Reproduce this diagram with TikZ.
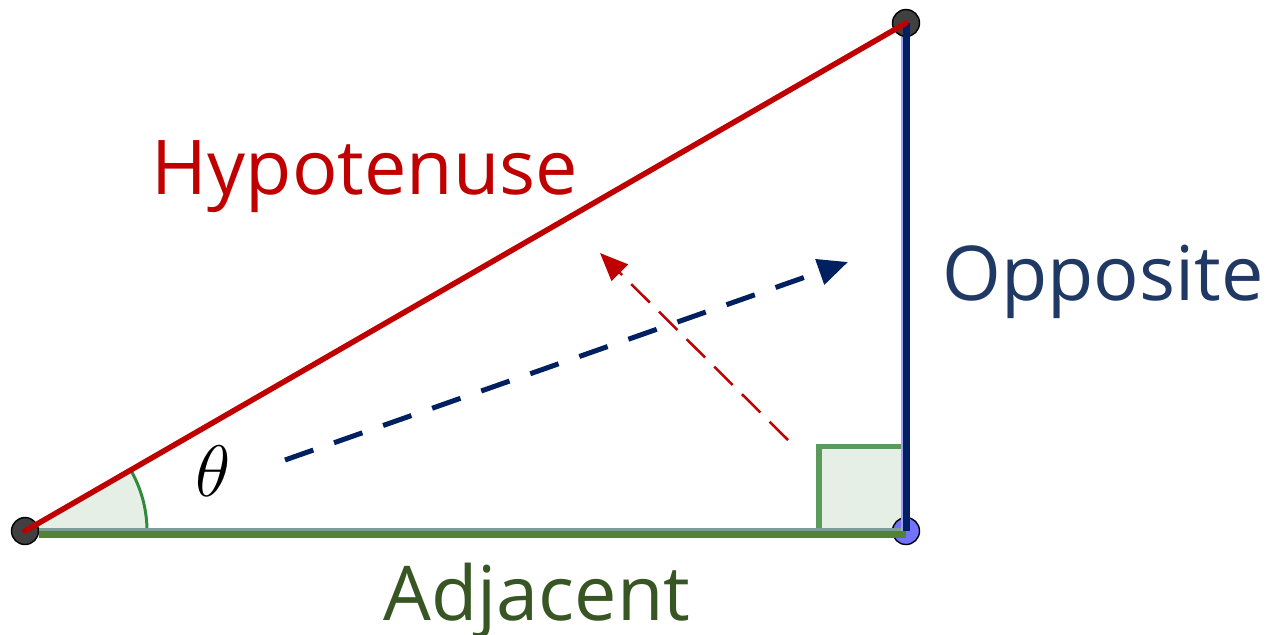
\documentclass[tikz,border=0pt]{standalone}
\usepackage{fontspec}
\setmainfont{Open Sans}
\usepackage{amsmath}
\usepackage{tikz}
\usetikzlibrary{arrows.meta, positioning, calc}
\definecolor{hypred}{HTML}{C00000}
\definecolor{oppblue}{HTML}{002060}
\definecolor{opptext}{HTML}{1F3864}
\definecolor{oppedge}{HTML}{A0A0FF}
\definecolor{adjgreen}{HTML}{538135}
\definecolor{adjtext}{HTML}{375623}
\definecolor{adjedge}{HTML}{7A9E96}
\definecolor{anglegreen}{HTML}{2E8B3A}
\definecolor{boxgreen}{HTML}{5A9A5A}
\definecolor{softgreen}{HTML}{E6EFE6}
\tikzstyle{vertex}   = [circle, inner sep=0pt, minimum size=2.7mm,
                        draw=black, line width=0.4pt, fill=black!75]
\tikzstyle{side}     = [line width=0.55mm, line cap=round]
\tikzstyle{label}    = [anchor=base, inner sep=0pt,
                        font=\fontsize{21.5}{26}\selectfont]
\tikzstyle{projarrow}= [-{Triangle[length=3mm, width=2.6mm]}, oppblue,
                        line width=0.5mm, dash pattern=on 3mm off 2.2mm]
\tikzstyle{normarrow}= [-{Triangle[length=2.8mm, width=2.3mm]}, hypred,
                        line width=0.25mm, dash pattern=on 2.6mm off 1.3mm]

\begin{document}
\begin{tikzpicture}[x=0.1mm, y=-0.1mm]
  \useasboundingbox (0,0) rectangle (1270,634);

  %% angle and right-angle marks
  \fill[softgreen] (25,531) -- ++(0:122) arc[start angle=0, end angle=-30, radius=122] -- cycle;
  \draw[boxgreen, line width=0.55mm, fill=softgreen] (819,446.5) rectangle (906,531);
  \draw[anglegreen, line width=0.3mm] (25,531) ++(0:122) arc[start angle=0, end angle=-30, radius=122];

  %% vertices
  \node[vertex] (A) at (25,531) {};
  \node[vertex, fill=blue!55] (B) at (906,531) {};
  \node[vertex] (C) at (906,23) {};

  %% adjacent side
  \draw[adjedge, line width=0.3mm] ([yshift=0.15mm]A.east) -- ([yshift=0.15mm]B.center);
  \draw[adjgreen, line width=0.7mm] ([yshift=-0.35mm]A.east) -- ([yshift=-0.35mm]B.center);

  %% opposite side
  \draw[oppedge, line width=0.2mm] ([xshift=-0.42mm]C.south) -- ([xshift=-0.42mm]B.center);
  \draw[oppblue, line width=0.7mm] ([xshift=0.05mm]C.center) -- ([xshift=0.05mm]B.center);

  %% hypotenuse
  \draw[side, hypred] (A.center) -- (C.center);

  %% arrows
  \coordinate (projtail) at (285,460);
  \coordinate (projtip)  at (848,262);
  \draw[projarrow] (projtail) -- (projtip);
  \coordinate (normtail) at (788,440);
  \coordinate (normtip)  at (600,253);
  \draw[normarrow] (normtail) -- (normtip);

  %% labels
  \node[label, hypred]  (hyp) at (365,194) {Hypotenuse};
  \node[label, opptext] (opp) at (1103,300) {Opposite};
  \node[label, adjtext] (adj) at (537,620) {Adjacent};
  \node[label]          (theta) at (213,496) {$\theta$};

\end{tikzpicture}
\end{document}
